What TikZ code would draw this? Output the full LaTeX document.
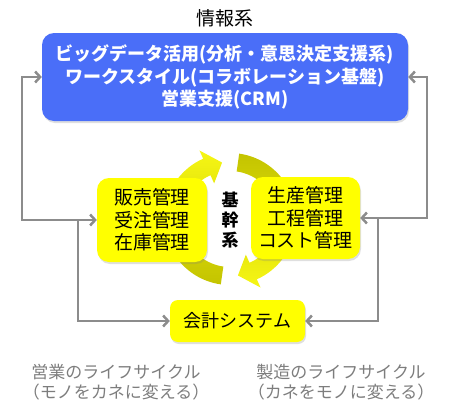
\documentclass[tikz,border=0pt]{standalone}
\usepackage{fontspec}
\setmainfont{Noto Sans CJK JP}
\usetikzlibrary{arrows.meta, positioning, shadows}
\definecolor{infoblue}{RGB}{74,110,248}
\definecolor{coreyellow}{RGB}{255,255,0}
\definecolor{cycledark}{RGB}{196,196,0}
\definecolor{cyclelight}{RGB}{246,246,20}
\definecolor{linegray}{RGB}{140,140,140}
\definecolor{labelgray}{RGB}{125,125,125}
\tikzset{
    block_blue/.style={rectangle, rounded corners=12pt, fill=infoblue, text=white, align=center, font=\fontsize{18}{22.5}\selectfont\bfseries, minimum width=366pt, minimum height=88pt, drop shadow={shadow xshift=1pt, shadow yshift=-2pt, opacity=0.25}},
    block_yellow/.style={rectangle, rounded corners=12pt, fill=coreyellow, align=center, font=\fontsize{19}{22.5}\selectfont, minimum width=110pt, minimum height=84pt, inner sep=0pt, drop shadow={shadow xshift=1pt, shadow yshift=-2pt, opacity=0.25}},
    label_gray/.style={align=center, text=labelgray, font=\fontsize{17}{20}\selectfont},
    arrow/.style={-{Straight Barb[length=5pt, width=11pt]}, line width=2.5pt, draw=linegray},
    cycle_arrow/.style={shading angle=0}
}
\begin{document}
\begin{tikzpicture}[x=1pt, y=1pt]
    \useasboundingbox (0,0) rectangle (451,-413);

    % core cycle
    \begin{scope}[shift={(230,-219)}]
        \shade[cycle_arrow, top color=cyclelight, bottom color=cycledark] (262:66) arc[start angle=262, end angle=114, radius=66] -- (114:75) -- (98:57) -- (114:39) -- (114:48) arc[start angle=114, end angle=262, radius=48] -- cycle;
        \shade[cycle_arrow, top color=cycledark, bottom color=cyclelight] (82:66) arc[start angle=82, end angle=-66, radius=66] -- (-66:75) -- (-82:57) -- (-66:39) -- (-66:48) arc[start angle=-66, end angle=82, radius=48] -- cycle;
    \end{scope}

    \node (info) [block_blue] at (225,-77) {ビッグデータ活用(分析・意思決定支援系)\\ワークスタイル(コラボレーション基盤)\\営業支援(CRM)};
    \node (title) [above=2pt of info, font=\fontsize{19}{22}\selectfont] {情報系};
    \node (sales) [block_yellow] at (152,-220) {販売管理\\受注管理\\在庫管理};
    \node (prod) [block_yellow, minimum width=109pt, minimum height=82pt] at (305.5,-218) {生産管理\\工程管理\\コスト管理};
    \node (core) [align=center, font=\fontsize{17}{20}\selectfont\bfseries] at (230,-220) {基\\幹\\系};
    \node (acct) [block_yellow, minimum width=135pt, minimum height=42pt, rounded corners=8pt, font=\fontsize{18}{22}\selectfont] at (237.5,-321) {会計システム};
    \node (saleslife) [label_gray] at (116,-382) {営業のライフサイクル\\（モノをカネに変える）};
    \node (prodlife) [label_gray] at (341,-382) {製造のライフサイクル\\（カネをモノに変える）};

    \coordinate (jl) at (78,-220);
    \coordinate (ll) at (22,-220);
    \coordinate (jr) at (378,-218);
    \coordinate (rr) at (427,-218);

    \draw [arrow] (jl) -- (sales);
    \draw [arrow] (jl) -- (ll) |- (info.west);
    \draw [arrow] (jl) |- (acct.west);
    \draw [arrow] (jr) -- (prod);
    \draw [arrow] (jr) -- (rr) |- (info.east);
    \draw [arrow] (jr) |- (acct.east);
\end{tikzpicture}
\end{document}
